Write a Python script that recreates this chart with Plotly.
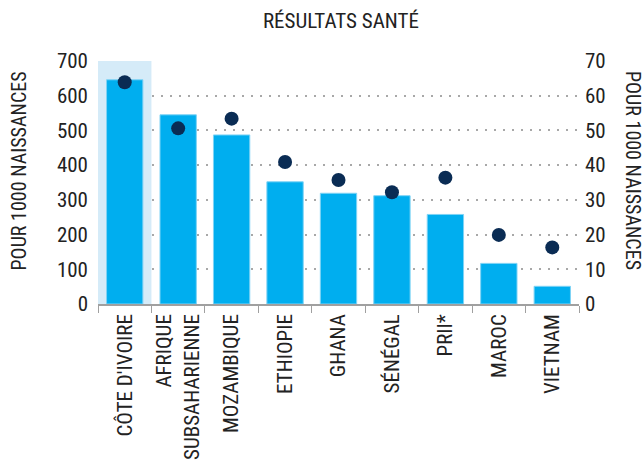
import plotly.graph_objects as go

categories = ["CÔTE D'IVOIRE", "AFRIQUE<br>SUBSAHARIENNE", "MOZAMBIQUE", "ETHIOPIE",
              "GHANA", "SÉNÉGAL", "PRII*", "MAROC", "VIETNAM"]
bar_values = [646, 545, 487, 352, 319, 312, 258, 117, 51]
dot_values = [63.9, 50.6, 53.4, 40.9, 35.7, 32.2, 36.4, 19.9, 16.3]
highlight_values = [700, None, None, None, None, None, None, None, None]
left_ticks = [0, 100, 200, 300, 400, 500, 600, 700]
right_ticks = [0, 10, 20, 30, 40, 50, 60, 70]

FONT = "Roboto Condensed, sans-serif"
TXT = "#222222"

fig = go.Figure()
fig.add_trace(go.Bar(x=categories, y=highlight_values, width=1.0,
                     marker=dict(color="#d5ebf8", line=dict(width=0)),
                     hoverinfo="skip", showlegend=False))
fig.add_trace(go.Bar(x=categories, y=bar_values, width=0.68,
                     marker=dict(color="#00aeef", line=dict(color="#7fd3f5", width=1)),
                     showlegend=False))
fig.add_trace(go.Scatter(x=categories, y=dot_values, yaxis="y2", mode="markers",
                         marker=dict(color="#0a2c54", size=14, line=dict(width=0)),
                         showlegend=False))

fig.update_layout(
    template="none",
    width=644, height=460,
    margin=dict(l=98, r=65, t=61, b=156, autoexpand=False),
    paper_bgcolor="white", plot_bgcolor="rgba(0,0,0,0)",
    barmode="overlay", showlegend=False,
    font=dict(family=FONT, size=20, color=TXT),
    title=dict(text="RÉSULTATS SANTÉ", xref="paper", x=0.505, xanchor="center",
               yref="container", y=1 - 21 / 460, yanchor="middle",
               font=dict(family=FONT, size=21, color=TXT)),
    xaxis=dict(type="category", range=[-0.5, 8.5], tickangle=-90, automargin=False,
               showline=True, linecolor="#a0a0a0", linewidth=1.5,
               ticks="outside", tickson="boundaries", ticklen=7, tickcolor="#a0a0a0",
               tickwidth=1.2, showgrid=False, zeroline=False,
               tickfont=dict(family=FONT, size=21, color=TXT)),
    yaxis=dict(range=[0, 700], tickvals=left_ticks, showgrid=True, automargin=False,
               gridcolor="#a8a8a8", gridwidth=2, griddash="2px,7px",
               zeroline=False, showline=False, ticks="", ticklabelstandoff=9,
               tickfont=dict(family=FONT, size=21, color=TXT)),
    yaxis2=dict(range=[0, 70], tickvals=right_ticks, overlaying="y", side="right",
                showgrid=False, zeroline=False, showline=False, ticks="", automargin=False,
                ticklabelstandoff=5,
                tickfont=dict(family=FONT, size=21, color=TXT)),
    annotations=[
        dict(text="POUR 1000 NAISSANCES", textangle=-90, xref="paper", yref="paper",
             x=-0.165, y=0.548, xanchor="center", yanchor="middle", showarrow=False,
             font=dict(family=FONT, size=20, color=TXT)),
        dict(text="POUR 1000 NAISSANCES", textangle=90, xref="paper", yref="paper",
             x=1.112, y=0.548, xanchor="center", yanchor="middle", showarrow=False,
             font=dict(family=FONT, size=20, color=TXT)),
    ],
)

fig.write_html("out.html", config={"displayModeBar": False},
               post_script="document.body.style.margin='0';document.body.style.padding='0';")
